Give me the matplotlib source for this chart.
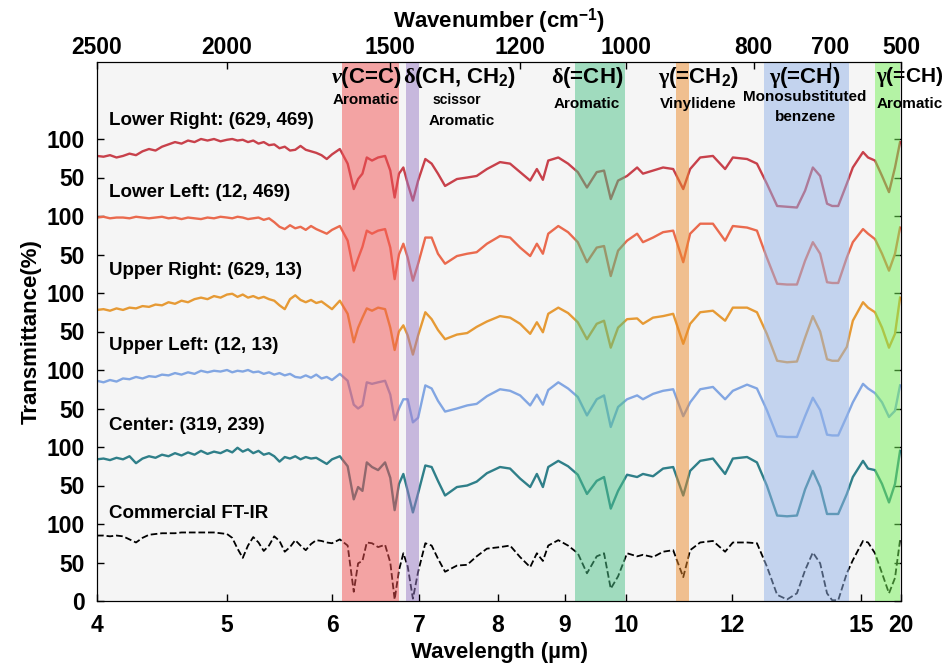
import numpy as np
import matplotlib
matplotlib.use("Agg")
import matplotlib.pyplot as plt

plt.rcParams['font.family'] = ['Liberation Sans', 'DejaVu Sans']
plt.rcParams['font.weight'] = 'bold'
plt.rcParams['axes.labelweight'] = 'bold'
plt.rcParams['mathtext.fontset'] = 'custom'
plt.rcParams['mathtext.rm'] = 'Liberation Serif'
plt.rcParams['mathtext.it'] = 'Liberation Serif:italic'
plt.rcParams['mathtext.bf'] = 'Liberation Sans:bold'

# wavelength samples (um): even steps over the noisy 4-6 um part, then feature points
wl_a = np.round(np.arange(4.0, 6.0001, 0.05), 2)
wl_b = [6.09, 6.18, 6.25, 6.30, 6.35, 6.40, 6.46, 6.53, 6.61, 6.67, 6.72, 6.77,
        6.82, 6.87, 6.93, 6.99, 7.08, 7.16, 7.24, 7.33, 7.48, 7.61, 7.73, 7.86,
        8.03, 8.18, 8.33, 8.48, 8.58, 8.67, 8.75, 8.90, 9.05, 9.21, 9.36, 9.52,
        9.64, 9.75, 9.87, 10.02, 10.21, 10.32, 10.51, 10.70, 10.89, 11.08, 11.21,
        11.40, 11.64, 11.87, 12.02, 12.35, 12.58, 12.81, 13.05, 13.28, 13.51,
        13.70, 13.88, 14.05, 14.21, 14.33, 14.47, 14.67, 14.81, 15.25, 15.88,
        16.75, 17.63, 18.50, 19.25, 19.88]
wavelength = np.concatenate([wl_a, wl_b])

# transmittance (%) of each spectrum
lower_right = [78, 77, 79, 76, 78, 81, 79, 84, 87, 85, 90, 93, 96, 94, 98, 96, 100, 98, 100, 97,
               99, 100, 98, 99, 96, 98, 94, 96, 92, 93, 88, 90, 85, 86, 91, 86, 84, 82, 79, 74, 80,
               87, 68, 35, 48, 55, 76, 72, 76, 78, 59, 24, 55, 63, 42, 20, 46, 74, 68, 55, 39,
               48, 50, 52, 61, 70, 68, 57, 46, 61, 47, 72, 76, 68, 57, 37, 57, 59, 22, 46, 52,
               63, 55, 59, 63, 61, 35, 61, 76, 78, 61, 76, 74, 68, 42, 13, 12, 11, 33, 63, 52,
               16, 13, 13, 42, 63, 83, 76, 72, 52, 31, 63, 96]
lower_left = [98, 99, 97, 98, 98, 97, 99, 98, 97, 98, 99, 97, 98, 96, 98, 97, 96, 98, 97, 99,
              98, 97, 99, 98, 96, 97, 98, 95, 97, 92, 86, 83, 88, 84, 86, 82, 87, 83, 80, 77, 82,
              87, 68, 29, 45, 60, 81, 77, 81, 83, 59, 18, 50, 64, 46, 16, 38, 72, 72, 51, 38,
              48, 51, 53, 64, 74, 72, 59, 48, 64, 51, 77, 87, 79, 66, 40, 59, 61, 22, 55, 68,
              77, 66, 72, 79, 81, 40, 77, 90, 90, 68, 87, 85, 81, 46, 12, 11, 11, 42, 66, 51,
              14, 13, 13, 46, 66, 83, 77, 70, 51, 29, 51, 85]
upper_right = [78, 79, 77, 80, 78, 81, 80, 83, 82, 85, 84, 88, 86, 90, 88, 92, 94, 92, 96, 94,
               98, 99, 95, 98, 94, 96, 93, 95, 92, 90, 84, 79, 92, 97, 91, 88, 91, 87, 89, 84, 79,
               90, 73, 36, 55, 68, 80, 77, 81, 79, 55, 26, 50, 58, 45, 20, 45, 75, 66, 52, 40,
               46, 48, 56, 63, 70, 68, 60, 47, 62, 49, 73, 81, 74, 62, 40, 60, 64, 29, 55, 66,
               67, 60, 68, 70, 73, 34, 60, 75, 77, 64, 81, 81, 75, 47, 12, 10, 11, 42, 70, 50,
               14, 12, 12, 30, 64, 88, 81, 75, 55, 29, 47, 94]
upper_left = [86, 84, 87, 85, 89, 88, 91, 89, 92, 91, 94, 93, 96, 94, 97, 95, 99, 97, 99, 98,
              100, 97, 99, 98, 100, 97, 98, 95, 97, 94, 96, 93, 95, 91, 90, 93, 90, 94, 89, 91, 87,
              95, 86, 55, 50, 54, 84, 82, 84, 86, 68, 35, 50, 62, 62, 32, 38, 80, 76, 60, 46,
              50, 54, 56, 66, 75, 73, 67, 54, 68, 55, 74, 84, 76, 65, 41, 62, 67, 26, 52, 62,
              67, 62, 69, 73, 75, 40, 58, 75, 78, 62, 73, 81, 76, 48, 14, 13, 13, 40, 64, 48,
              16, 15, 15, 40, 58, 82, 76, 70, 58, 39, 47, 80]
center = [84, 85, 83, 86, 84, 88, 79, 85, 88, 86, 90, 88, 92, 89, 93, 90, 95, 91, 94, 92,
          96, 93, 99, 94, 97, 92, 95, 90, 92, 88, 81, 87, 85, 88, 84, 87, 85, 86, 82, 78, 84,
          88, 75, 32, 48, 43, 80, 74, 70, 80, 60, 18, 52, 65, 43, 15, 40, 76, 74, 56, 37,
          48, 50, 55, 66, 74, 72, 59, 48, 65, 48, 74, 82, 75, 64, 39, 56, 61, 20, 43, 64,
          61, 65, 62, 72, 74, 37, 69, 82, 85, 65, 85, 87, 80, 50, 11, 10, 11, 45, 69, 48,
          13, 13, 13, 39, 61, 82, 72, 70, 52, 28, 52, 95]
commercial = [85, 85, 84, 85, 84, 80, 76, 82, 86, 87, 88, 88, 88, 89, 89, 89, 89, 89, 89, 88,
              87, 82, 68, 56, 72, 83, 76, 65, 72, 84, 78, 64, 70, 79, 72, 66, 74, 79, 78, 76, 75,
              80, 72, 12, 49, 52, 76, 75, 70, 73, 50, 2, 40, 62, 45, 3, 38, 75, 72, 55, 38,
              46, 47, 58, 68, 70, 72, 57, 44, 62, 52, 72, 79, 72, 62, 36, 58, 62, 16, 32, 62,
              58, 60, 57, 64, 66, 31, 66, 76, 78, 64, 76, 76, 75, 45, 8, 2, 10, 40, 63, 49,
              10, 1, 1, 36, 53, 78, 76, 62, 36, 10, 30, 79]

spectra = [
    ("Lower Right: (629, 469)", lower_right, 500, "#c8414b", "-"),
    ("Lower Left: (12, 469)", lower_left, 400, "#ea6a4e", "-"),
    ("Upper Right: (629, 13)", upper_right, 300, "#e69a35", "-"),
    ("Upper Left: (12, 13)", upper_left, 200, "#82a6e2", "-"),
    ("Center: (319, 239)", center, 100, "#2f7f89", "-"),
    ("Commercial FT-IR", commercial, 0, "black", "--"),
]
label_y = [624, 530, 429, 332, 228, 114]

# highlighted absorption bands (um)
bands = [(6.11, 6.77, "#f25252"), (6.85, 7.00, "#9a7cc6"), (9.17, 9.99, "#4cc388"),
         (10.94, 11.18, "#ec8a2a"), (12.74, 14.71, "#93b3e8"), (16.75, 19.9, "#74f257")]

# the figure's wavelength axis is stretched unevenly; these knots reproduce it
knot_wl = [4, 5, 6, 7, 8, 9, 10, 12, 15, 20]
knot_pos = [97, 227, 332, 419, 498, 565, 626, 732, 861, 901]
fwd = lambda x: np.interp(x, knot_wl, knot_pos)
inv = lambda p: np.interp(p, knot_pos, knot_wl)

wavenumbers = [2500, 2000, 1500, 1200, 1000, 800, 700, 500]

fig = plt.figure(figsize=(9.47, 6.68), dpi=100)
ax = fig.add_axes([97 / 947, 67 / 668, 804 / 947, 539 / 668])
ax.set_facecolor("#f5f5f5")
ax.set_xscale("function", functions=(fwd, inv))

for name, vals, off, col, ls in spectra:
    ax.plot(wavelength, np.array(vals) + off, color=col, ls=ls,
            lw=1.7 if ls == "-" else 1.3, zorder=2)

for lo, hi, col in bands:
    ax.axvspan(lo, hi, color=col, alpha=0.5, lw=0, zorder=3)

for (name, *_), y in zip(spectra, label_y):
    ax.text(4.09, y, name, fontsize=13.5, ha="left", va="center", zorder=5)

ax.set_xlim(4, 20)
ax.set_ylim(0, 700)
ax.set_xticks(knot_wl)
ax.set_xticklabels([str(v) for v in knot_wl])
ax.set_yticks(np.arange(0, 601, 50))
ax.set_yticklabels(["0", "50", "100"] + ["50", "100"] * 5)
ax.tick_params(axis="both", direction="in", length=5, width=1, labelsize=16.5)
ax.tick_params(axis="y", right=True, pad=9)
ax.tick_params(axis="x", pad=9)
ax.set_xlabel("Wavelength (µm)", fontsize=16, labelpad=4)
ax.set_ylabel("Transmittance(%)", fontsize=16, labelpad=3)

ax2 = ax.twiny()
ax2.set_xscale("function", functions=(fwd, inv))
ax2.set_xlim(4, 20)
ax2.set_xticks([1e4 / w for w in wavenumbers])
ax2.set_xticklabels([str(w) for w in wavenumbers])
ax2.tick_params(axis="x", direction="in", length=5, width=1, labelsize=16.5, pad=2)
ax2.set_xlabel(r"Wavenumber (cm$^{\mathbf{-1}}$)", fontsize=16, labelpad=6)

# band annotations
big = dict(fontsize=16, ha="center", va="center", zorder=5)
small = dict(fontsize=11, ha="center", va="center", zorder=5)
ax.text(6.39, 680, r"$\nu$(C=C)", **big)
ax.text(6.39, 650, "Aromatic", **small)
ax.text(7.52, 680, r"$\mathrm{\delta}$(CH, CH$_{\mathbf{2}}$)", **big)
ax.text(7.48, 650, "scissor", fontsize=10, ha="center", va="center")
ax.text(7.54, 624, "Aromatic", **small)
ax.text(9.36, 680, r"$\mathrm{\delta}$(=CH)", **big)
ax.text(9.36, 646, "Aromatic", **small)
ax.text(11.36, 680, r"$\mathrm{\gamma}$(=CH$_{\mathbf{2}}$)", **big)
ax.text(11.36, 646, "Vinylidene", **small)
ax.text(13.7, 680, r"$\mathrm{\gamma}$(=CH)", **big)
ax.text(13.7, 654, "Monosubstituted", **small)
ax.text(13.7, 629, "benzene", **small)
ax.text(16.9, 680, r"$\mathrm{\gamma}$(=CH)", fontsize=15, ha="left", va="center", zorder=5)
ax.text(16.9, 646, "Aromatic", fontsize=11, ha="left", va="center", zorder=5)

fig.savefig("out.png", dpi=100)
